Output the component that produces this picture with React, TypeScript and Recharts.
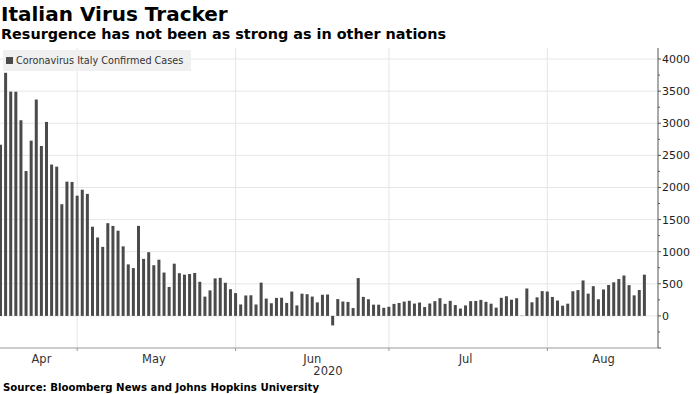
import { BarChart, Bar, XAxis, YAxis, CartesianGrid, Legend } from 'recharts';

// daily new confirmed cases, Italy (JHU), Apr 15 – Aug 19 2020
const aprCases = [2667, 3786, 3493, 3491, 3047, 2256, 2729, 3370, 2646, 3021, 2357, 2324, 1739, 2091, 2086, 1872];
const mayCases = [1965, 1900, 1389, 1221, 1075, 1444, 1401, 1327, 1083, 802, 744, 1402, 888, 992, 789, 875, 675, 451, 813, 665, 642, 652, 669, 531, 300, 397, 584, 593, 516, 416, 355];
const junCases = [178, 318, 321, 177, 518, 270, 197, 280, 283, 202, 379, 163, 346, 338, 301, 210, 329, 333, -148, 262, 224, 218, 122, 589, 296, 259, 175, 174, 126, 142];
const julCases = [187, 201, 223, 235, 192, 208, 138, 193, 229, 276, 188, 234, 169, 114, 163, 230, 233, 249, 219, 190, 129, 282, 306, 252, 275, 4, 427, 212, 289, 386, 379];
const augCases = [295, 239, 159, 190, 384, 402, 552, 347, 463, 259, 412, 481, 523, 574, 629, 479, 320, 403, 642];

const months = [
  { m: '04', first: 15, values: aprCases },
  { m: '05', first: 1, values: mayCases },
  { m: '06', first: 1, values: junCases },
  { m: '07', first: 1, values: julCases },
  { m: '08', first: 1, values: augCases },
];

const data = months.flatMap(({ m, first, values }) =>
  values.map((cases, i) => ({ date: `2020-${m}-${String(first + i).padStart(2, '0')}`, cases }))
);

const monthEnds = ['2020-04-30', '2020-05-31', '2020-06-30', '2020-07-31'];
const monthLabels: Record<string, string> = {
  '2020-04-23': 'Apr',
  '2020-05-15': 'May',
  '2020-06-15': 'Jun',
  '2020-07-15': 'Jul',
  '2020-08-11': 'Aug',
};
const yTicks = [-500, -250, 0, 250, 500, 750, 1000, 1250, 1500, 1750, 2000, 2250, 2500, 2750, 3000, 3250, 3500, 3750, 4000];
const yGrid = [0, 500, 1000, 1500, 2000, 2500, 3000, 3500, 4000];

const FONT = "'DejaVu Sans', Verdana, sans-serif";
const BAR = '#4a4a4a';

const YTick = ({ x, y, payload }: any) => {
  const v = payload.value;
  const major = v % 500 === 0;
  return (
    <g>
      <line x1={x} x2={x + (major ? 3 : 2)} y1={y} y2={y} stroke="#555" />
      {major && v >= 0 && (
        <text x={x + 4} y={y} dy="0.36em" fontFamily={FONT} fontSize={11} fill="#222">
          {v}
        </text>
      )}
    </g>
  );
};

const XTick = ({ x, y, payload }: any) => {
  const label = monthLabels[payload.value];
  if (label) {
    return (
      <text x={x} y={y + 15} textAnchor="middle" fontFamily={FONT} fontSize={11.5} fill="#333">
        {label}
      </text>
    );
  }
  return <line x1={x} x2={x} y1={y} y2={y + 3} stroke="#999" />;
};

const LegendBox = ({ payload }: any) => {
  const item = payload && payload[0];
  if (!item) return null;
  return (
    <div
      style={{
        display: 'inline-flex',
        alignItems: 'center',
        height: 21,
        padding: '0 8px 0 3px',
        background: '#f0f0f0',
        fontFamily: FONT,
        fontSize: 9.7,
        color: '#333',
        whiteSpace: 'nowrap',
      }}
    >
      <span style={{ display: 'inline-block', width: 7, height: 7, background: item.color, marginRight: 3 }} />
      {item.value}
    </div>
  );
};

export default function App() {
  return (
    <div style={{ position: 'absolute', left: 0, top: 0, width: 700, height: 394, background: '#fff', overflow: 'hidden' }}>
      <div style={{ position: 'absolute', left: 1, top: 4, fontFamily: FONT, fontWeight: 'bold', fontSize: 20, lineHeight: '20px', color: '#000', whiteSpace: 'nowrap' }}>
        Italian Virus Tracker
      </div>
      <div style={{ position: 'absolute', left: 1, top: 27, fontFamily: FONT, fontWeight: 'bold', fontSize: 14.4, lineHeight: '14.4px', color: '#000', whiteSpace: 'nowrap' }}>
        Resurgence has not been as strong as in other nations
      </div>

      <div style={{ position: 'absolute', left: -2, top: 40 }}>
        <BarChart width={702} height={342} data={data} margin={{ top: 8, right: 0, bottom: 0, left: 0 }}>
          <CartesianGrid stroke="#e6e6e6" horizontalValues={yGrid} verticalValues={monthEnds} />
          <XAxis
            dataKey="date"
            ticks={[...monthEnds, ...Object.keys(monthLabels)]}
            interval={0}
            tick={<XTick />}
            tickLine={false}
            tickSize={0}
            tickMargin={0}
            height={34}
            padding={{ left: 0, right: 11 }}
            axisLine={{ stroke: '#999' }}
            label={{ value: '2020', position: 'insideBottom', offset: 7, style: { fontFamily: FONT, fontSize: 11.5, fill: '#333' } }}
          />
          <YAxis
            orientation="right"
            width={42}
            domain={[-500, 4172]}
            allowDataOverflow
            ticks={yTicks}
            interval={0}
            tick={<YTick />}
            tickLine={false}
            tickSize={0}
            tickMargin={0}
            axisLine={{ stroke: '#555' }}
          />
          <Legend
            layout="horizontal"
            align="center"
            verticalAlign="middle"
            wrapperStyle={{ left: 5, top: 10, width: 'auto' }}
            content={<LegendBox />}
          />
          <Bar dataKey="cases" name="Coronavirus Italy Confirmed Cases" fill={BAR} barSize={3} isAnimationActive={false} />
        </BarChart>
      </div>

      <div style={{ position: 'absolute', left: 3, top: 383, fontFamily: FONT, fontWeight: 'bold', fontSize: 10.2, lineHeight: '10.2px', color: '#000', whiteSpace: 'nowrap' }}>
        Source: Bloomberg News and Johns Hopkins University
      </div>
    </div>
  );
}
